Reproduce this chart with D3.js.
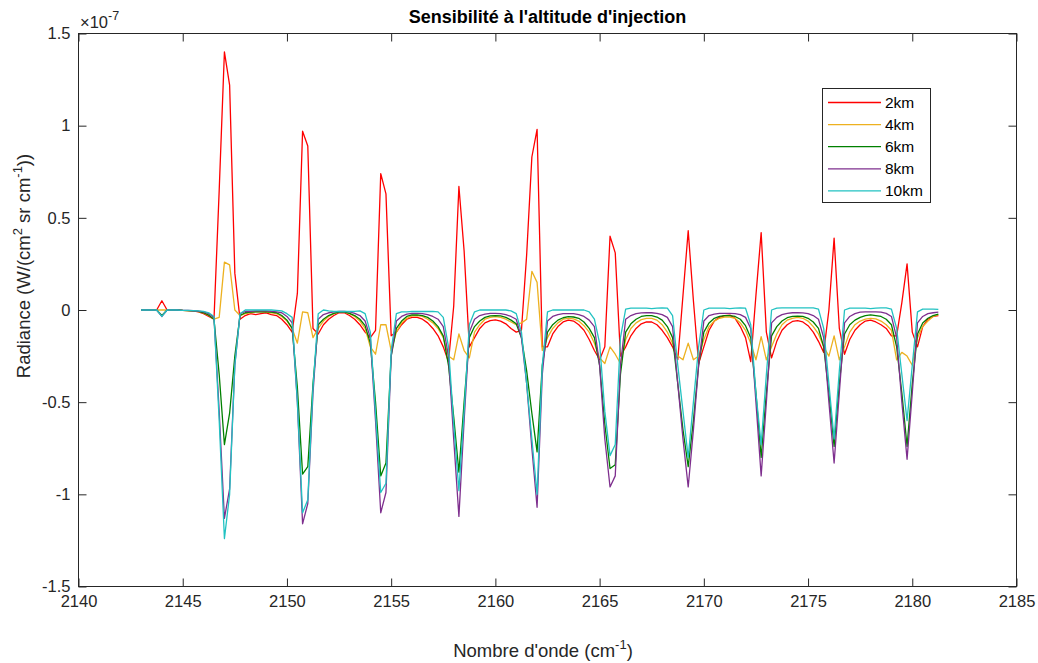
<!DOCTYPE html>
<html>
<head>
<meta charset="utf-8">
<script src="https://cdn.jsdelivr.net/npm/d3@7"></script>
<style>
  html, body { margin: 0; padding: 0; background: #ffffff; }
  svg { display: block; font-family: "Liberation Sans", Arial, Helvetica, sans-serif; }
</style>
</head>
<body>
<svg id="chart" width="1038" height="663"></svg>
<script>
// Spectral grid (cm-1)
const wavenumbers = [
  2143, 2143.25, 2143.5, 2143.75, 2144, 2144.25, 2144.5, 2144.75, 2145, 2145.25,
  2145.5, 2145.75, 2146, 2146.25, 2146.5, 2146.75, 2147, 2147.25, 2147.5, 2147.75,
  2148, 2148.25, 2148.5, 2148.75, 2149, 2149.25, 2149.5, 2149.75, 2150, 2150.25,
  2150.5, 2150.75, 2151, 2151.25, 2151.5, 2151.75, 2152, 2152.25, 2152.5, 2152.75,
  2153, 2153.25, 2153.5, 2153.75, 2154, 2154.25, 2154.5, 2154.75, 2155, 2155.25,
  2155.5, 2155.75, 2156, 2156.25, 2156.5, 2156.75, 2157, 2157.25, 2157.5, 2157.75,
  2158, 2158.25, 2158.5, 2158.75, 2159, 2159.25, 2159.5, 2159.75, 2160, 2160.25,
  2160.5, 2160.75, 2161, 2161.25, 2161.5, 2161.75, 2162, 2162.25, 2162.5, 2162.75,
  2163, 2163.25, 2163.5, 2163.75, 2164, 2164.25, 2164.5, 2164.75, 2165, 2165.25,
  2165.5, 2165.75, 2166, 2166.25, 2166.5, 2166.75, 2167, 2167.25, 2167.5, 2167.75,
  2168, 2168.25, 2168.5, 2168.75, 2169, 2169.25, 2169.5, 2169.75, 2170, 2170.25,
  2170.5, 2170.75, 2171, 2171.25, 2171.5, 2171.75, 2172, 2172.25, 2172.5, 2172.75,
  2173, 2173.25, 2173.5, 2173.75, 2174, 2174.25, 2174.5, 2174.75, 2175, 2175.25,
  2175.5, 2175.75, 2176, 2176.25, 2176.5, 2176.75, 2177, 2177.25, 2177.5, 2177.75,
  2178, 2178.25, 2178.5, 2178.75, 2179, 2179.25, 2179.5, 2179.75, 2180, 2180.25,
  2180.5, 2180.75, 2181, 2181.25
];

// Radiance differences, in units of 1e-7 W/(cm2 sr cm-1)
const rad2km = [
  0, 0, 0, 0, 0.05, 0, 0, 0, -0.002, -0.003,
  -0.005, -0.01, -0.02, -0.035, -0.05, 0.65, 1.40, 1.22, 0.2, -0.05,
  -0.03, -0.02, -0.025, -0.02, -0.015, -0.025, -0.03, -0.05, -0.08, -0.12,
  0.09, 0.97, 0.89, -0.1, -0.13, -0.08, -0.05, -0.03, -0.015, -0.015,
  -0.03, -0.05, -0.08, -0.12, -0.15, -0.11, 0.74, 0.63, -0.14, -0.12,
  -0.08, -0.05, -0.04, -0.04, -0.05, -0.07, -0.1, -0.14, -0.2, -0.28,
  0.02, 0.67, 0.32, -0.2, -0.15, -0.1, -0.07, -0.058, -0.054, -0.06,
  -0.075, -0.1, -0.12, -0.11, 0.3, 0.83, 0.98, -0.2, -0.2, -0.13,
  -0.09, -0.065, -0.055, -0.06, -0.08, -0.11, -0.16, -0.22, -0.27, -0.2,
  0.40, 0.31, -0.25, -0.2, -0.14, -0.1, -0.075, -0.065, -0.065, -0.08,
  -0.11, -0.15, -0.2, -0.27, 0.08, 0.43, 0.05, -0.29, -0.2, -0.11,
  -0.06, -0.04, -0.03, -0.028, -0.045, -0.09, -0.15, -0.28, 0.08, 0.42,
  -0.12, -0.26, -0.17, -0.11, -0.08, -0.062, -0.058, -0.065, -0.085, -0.12,
  -0.17, -0.23, 0.0, 0.39, -0.1, -0.24, -0.16, -0.11, -0.08, -0.06,
  -0.055, -0.065, -0.08, -0.1, -0.14, -0.14, 0.04, 0.25, -0.12, -0.2,
  -0.09, -0.05, -0.035, -0.03
];

const rad4km = [
  0, 0, 0, 0, 0, 0, 0, 0, -0.002, -0.003,
  -0.005, -0.009, -0.016, -0.03, -0.05, -0.04, 0.26, 0.245, 0.0, -0.03,
  -0.02, -0.015, -0.01, -0.01, -0.01, -0.015, -0.02, -0.035, -0.06, -0.1,
  -0.18, -0.01, -0.015, -0.15, -0.1, -0.06, -0.035, -0.02, -0.012, -0.012,
  -0.02, -0.035, -0.06, -0.1, -0.2, -0.24, -0.08, -0.08, -0.22, -0.12,
  -0.07, -0.045, -0.032, -0.03, -0.035, -0.05, -0.07, -0.1, -0.15, -0.25,
  -0.27, -0.13, -0.22, -0.26, -0.12, -0.08, -0.05, -0.04, -0.036, -0.04,
  -0.05, -0.065, -0.08, -0.07, -0.05, 0.21, 0.15, -0.22, -0.15, -0.1,
  -0.07, -0.05, -0.045, -0.048, -0.06, -0.085, -0.12, -0.18, -0.26, -0.29,
  -0.2, -0.24, -0.29, -0.16, -0.1, -0.07, -0.052, -0.045, -0.045, -0.055,
  -0.08, -0.12, -0.18, -0.25, -0.27, -0.18, -0.27, -0.25, -0.16, -0.09,
  -0.06, -0.045, -0.038, -0.038, -0.045, -0.07, -0.11, -0.18, -0.27, -0.145,
  -0.27, -0.2, -0.13, -0.08, -0.055, -0.045, -0.04, -0.045, -0.06, -0.09,
  -0.13, -0.2, -0.25, -0.14, -0.27, -0.2, -0.12, -0.08, -0.06, -0.05,
  -0.045, -0.048, -0.06, -0.08, -0.11, -0.27, -0.23, -0.25, -0.3, -0.15,
  -0.09, -0.06, -0.035, -0.025
];

const rad6km = [
  0, 0, 0, 0, -0.03, 0, 0, 0, -0.002, -0.003,
  -0.005, -0.008, -0.015, -0.028, -0.05, -0.35, -0.73, -0.56, -0.25, -0.03,
  -0.015, -0.012, -0.01, -0.01, -0.01, -0.012, -0.015, -0.03, -0.055, -0.1,
  -0.42, -0.89, -0.85, -0.4, -0.08, -0.05, -0.03, -0.018, -0.012, -0.012,
  -0.018, -0.03, -0.05, -0.085, -0.18, -0.5, -0.90, -0.83, -0.25, -0.1,
  -0.06, -0.035, -0.027, -0.027, -0.03, -0.04, -0.06, -0.09, -0.14, -0.3,
  -0.58, -0.88, -0.5, -0.15, -0.09, -0.06, -0.04, -0.032, -0.03, -0.032,
  -0.04, -0.055, -0.075, -0.15, -0.33, -0.56, -0.77, -0.3, -0.12, -0.08,
  -0.055, -0.042, -0.036, -0.038, -0.045, -0.065, -0.1, -0.15, -0.3, -0.62,
  -0.86, -0.84, -0.35, -0.12, -0.075, -0.05, -0.035, -0.03, -0.03, -0.038,
  -0.055, -0.09, -0.15, -0.4, -0.65, -0.85, -0.6, -0.3, -0.12, -0.07,
  -0.045, -0.035, -0.03, -0.03, -0.035, -0.05, -0.085, -0.15, -0.45, -0.8,
  -0.45, -0.14, -0.09, -0.06, -0.042, -0.035, -0.033, -0.035, -0.045, -0.065,
  -0.1, -0.2, -0.45, -0.74, -0.4, -0.13, -0.08, -0.055, -0.04, -0.03,
  -0.027, -0.03, -0.035, -0.05, -0.08, -0.2, -0.45, -0.74, -0.4, -0.13,
  -0.07, -0.045, -0.03, -0.022
];

const rad8km = [
  0, 0, 0, 0, -0.035, 0, 0, 0, -0.002, -0.002,
  -0.004, -0.006, -0.01, -0.02, -0.04, -0.55, -1.13, -0.97, -0.3, -0.02,
  -0.008, -0.008, -0.005, -0.005, -0.005, -0.008, -0.01, -0.015, -0.035, -0.07,
  -0.5, -1.16, -1.05, -0.45, -0.05, -0.025, -0.015, -0.01, -0.008, -0.008,
  -0.01, -0.018, -0.03, -0.06, -0.15, -0.6, -1.10, -0.99, -0.25, -0.06,
  -0.035, -0.022, -0.018, -0.018, -0.02, -0.025, -0.035, -0.05, -0.09, -0.25,
  -0.7, -1.12, -0.6, -0.12, -0.05, -0.03, -0.022, -0.018, -0.018, -0.02,
  -0.025, -0.035, -0.05, -0.15, -0.4, -0.75, -1.07, -0.35, -0.06, -0.035,
  -0.025, -0.02, -0.02, -0.02, -0.025, -0.035, -0.055, -0.09, -0.3, -0.7,
  -0.96, -0.9, -0.3, -0.05, -0.03, -0.02, -0.016, -0.015, -0.015, -0.018,
  -0.025, -0.04, -0.09, -0.4, -0.7, -0.96, -0.65, -0.3, -0.06, -0.03,
  -0.022, -0.018, -0.018, -0.018, -0.02, -0.025, -0.04, -0.1, -0.5, -0.9,
  -0.5, -0.07, -0.04, -0.025, -0.018, -0.015, -0.015, -0.016, -0.02, -0.03,
  -0.05, -0.15, -0.5, -0.83, -0.45, -0.07, -0.035, -0.02, -0.012, -0.01,
  -0.01, -0.01, -0.012, -0.018, -0.035, -0.15, -0.5, -0.81, -0.45, -0.07,
  -0.035, -0.02, -0.015, -0.012
];

const rad10km = [
  0, 0, 0, 0, -0.035, 0, 0, 0, -0.002, -0.002,
  -0.003, -0.005, -0.008, -0.015, -0.035, -0.6, -1.24, -1.0, -0.3, -0.02,
  0, 0, 0, 0, 0, 0, -0.002, -0.005, -0.02, -0.04,
  -0.5, -1.10, -1.03, -0.42, -0.02, 0, -0.005, -0.008, -0.008, -0.008,
  -0.008, -0.008, -0.005, -0.02, -0.12, -0.56, -0.99, -0.94, -0.22, -0.02,
  -0.01, -0.01, -0.008, -0.008, -0.008, -0.008, -0.008, -0.01, -0.04, -0.2,
  -0.62, -0.98, -0.55, -0.08, -0.01, 0, 0, 0, 0, 0,
  0, -0.005, -0.02, -0.12, -0.4, -0.7, -1.0, -0.3, -0.01, 0,
  0, 0, 0, 0, 0, 0, -0.01, -0.05, -0.18, -0.55,
  -0.79, -0.73, -0.15, 0.005, 0.01, 0.01, 0.01, 0.01, 0.008, 0.01,
  0.012, 0.01, -0.03, -0.3, -0.55, -0.8, -0.5, -0.2, 0, 0.01,
  0.01, 0.01, 0.01, 0.008, 0.01, 0.012, 0.01, -0.08, -0.45, -0.73,
  -0.35, 0, 0.01, 0.012, 0.012, 0.012, 0.012, 0.012, 0.012, 0.012,
  0.005, -0.1, -0.4, -0.7, -0.33, 0, 0.01, 0.01, 0.01, 0.01,
  0.008, 0.01, 0.012, 0.012, 0.005, -0.1, -0.35, -0.6, -0.3, -0.01,
  0.005, 0.005, 0.005, 0.003
];

const seriesNames = ["2km", "4km", "6km", "8km", "10km"];
const seriesColors = ["#ff0000", "#edb120", "#008000", "#7e2f8e", "#22c2c2"];
const xTicks = [2140, 2145, 2150, 2155, 2160, 2165, 2170, 2175, 2180, 2185];
const yTicks = [-1.5, -1, -0.5, 0, 0.5, 1, 1.5];

const series = [rad2km, rad4km, rad6km, rad8km, rad10km].map((vals, i) => ({
  name: seriesNames[i],
  color: seriesColors[i],
  points: vals.map((v, j) => [wavenumbers[j], v])
}));

const svg = d3.select("#chart");
const axisColor = "#262626";
const plot = { left: 78.5, right: 1016.5, top: 33.5, bottom: 586.5 };

const x = d3.scaleLinear().domain([2140, 2185]).range([plot.left, plot.right]);
const y = d3.scaleLinear().domain([-1.5, 1.5]).range([plot.bottom, plot.top]);

// Plot background
svg.append("rect")
  .attr("x", plot.left).attr("y", plot.top)
  .attr("width", plot.right - plot.left).attr("height", plot.bottom - plot.top)
  .attr("fill", "#ffffff");

// Spectra
const line = d3.line().x(d => x(d[0])).y(d => y(d[1]));
svg.append("g")
  .selectAll("path")
  .data(series)
  .join("path")
  .attr("d", d => line(d.points))
  .attr("fill", "none")
  .attr("stroke", d => d.color)
  .attr("stroke-width", 1.3)
  .attr("stroke-linejoin", "round");

// Axes (ticks point inward, on all four sides)
const fmt = d => String(d);
const tickLen = 8;

function styleAxis(g) {
  g.select(".domain").remove();
  g.selectAll(".tick line").attr("stroke", axisColor);
  g.selectAll(".tick text")
    .attr("fill", axisColor)
    .style("font-size", "16.5px")
    .style("font-family", "'Liberation Sans', Arial, Helvetica, sans-serif");
}

svg.append("g")
  .attr("transform", `translate(0,${plot.bottom})`)
  .call(d3.axisBottom(x).tickValues(xTicks).tickFormat(fmt).tickSize(-tickLen).tickPadding(9))
  .call(styleAxis);

svg.append("g")
  .attr("transform", `translate(0,${plot.top})`)
  .call(d3.axisTop(x).tickValues(xTicks).tickFormat("").tickSize(-tickLen))
  .call(styleAxis);

svg.append("g")
  .attr("transform", `translate(${plot.left},0)`)
  .call(d3.axisLeft(y).tickValues(yTicks).tickFormat(fmt).tickSize(-tickLen).tickPadding(8))
  .call(styleAxis);

svg.append("g")
  .attr("transform", `translate(${plot.right},0)`)
  .call(d3.axisRight(y).tickValues(yTicks).tickFormat("").tickSize(-tickLen))
  .call(styleAxis);

// Axes box
svg.append("rect")
  .attr("x", plot.left).attr("y", plot.top)
  .attr("width", plot.right - plot.left).attr("height", plot.bottom - plot.top)
  .attr("fill", "none")
  .attr("stroke", axisColor)
  .attr("stroke-width", 1);

// Exponent label
const expo = svg.append("text")
  .attr("x", 80).attr("y", 28)
  .attr("fill", axisColor)
  .style("font-size", "16.5px");
expo.append("tspan").text("\u00d710");
expo.append("tspan").attr("dy", -8).style("font-size", "12.5px").text("-7");

// Title
svg.append("text")
  .attr("x", (plot.left + plot.right) / 2)
  .attr("y", 23)
  .attr("text-anchor", "middle")
  .attr("fill", "#000000")
  .style("font-size", "18px")
  .style("font-weight", "bold")
  .text("Sensibilité à l'altitude d'injection");

// X axis label
const xl = svg.append("text")
  .attr("x", 543).attr("y", 657)
  .attr("text-anchor", "middle")
  .attr("fill", axisColor)
  .style("font-size", "18.5px");
xl.append("tspan").text("Nombre d'onde (cm");
xl.append("tspan").attr("dy", -8).style("font-size", "13px").text("-1");
xl.append("tspan").attr("dy", 8).text(")");

// Y axis label
const yl = svg.append("text")
  .attr("transform", "translate(30,266) rotate(-90)")
  .attr("text-anchor", "middle")
  .attr("fill", axisColor)
  .style("font-size", "18.5px");
yl.append("tspan").text("Radiance (W/(cm");
yl.append("tspan").attr("dy", -8).style("font-size", "13px").text("2");
yl.append("tspan").attr("dy", 8).text(" sr cm");
yl.append("tspan").attr("dy", -8).style("font-size", "13px").text("-1");
yl.append("tspan").attr("dy", 8).text("))");

// Legend
const legend = svg.append("g");
legend.append("rect")
  .attr("x", 822.5).attr("y", 88.5)
  .attr("width", 108).attr("height", 114)
  .attr("fill", "#ffffff")
  .attr("stroke", axisColor)
  .attr("stroke-width", 1);

const entry = legend.selectAll("g.entry")
  .data(series)
  .join("g")
  .attr("class", "entry")
  .attr("transform", (d, i) => `translate(0,${102.5 + i * 22.1})`);

entry.append("line")
  .attr("x1", 828).attr("x2", 881)
  .attr("y1", 0).attr("y2", 0)
  .attr("stroke", d => d.color)
  .attr("stroke-width", 1.3);

entry.append("text")
  .attr("x", 885).attr("y", 5.5)
  .attr("fill", "#000000")
  .style("font-size", "15.5px")
  .text(d => d.name);
</script>
</body>
</html>
